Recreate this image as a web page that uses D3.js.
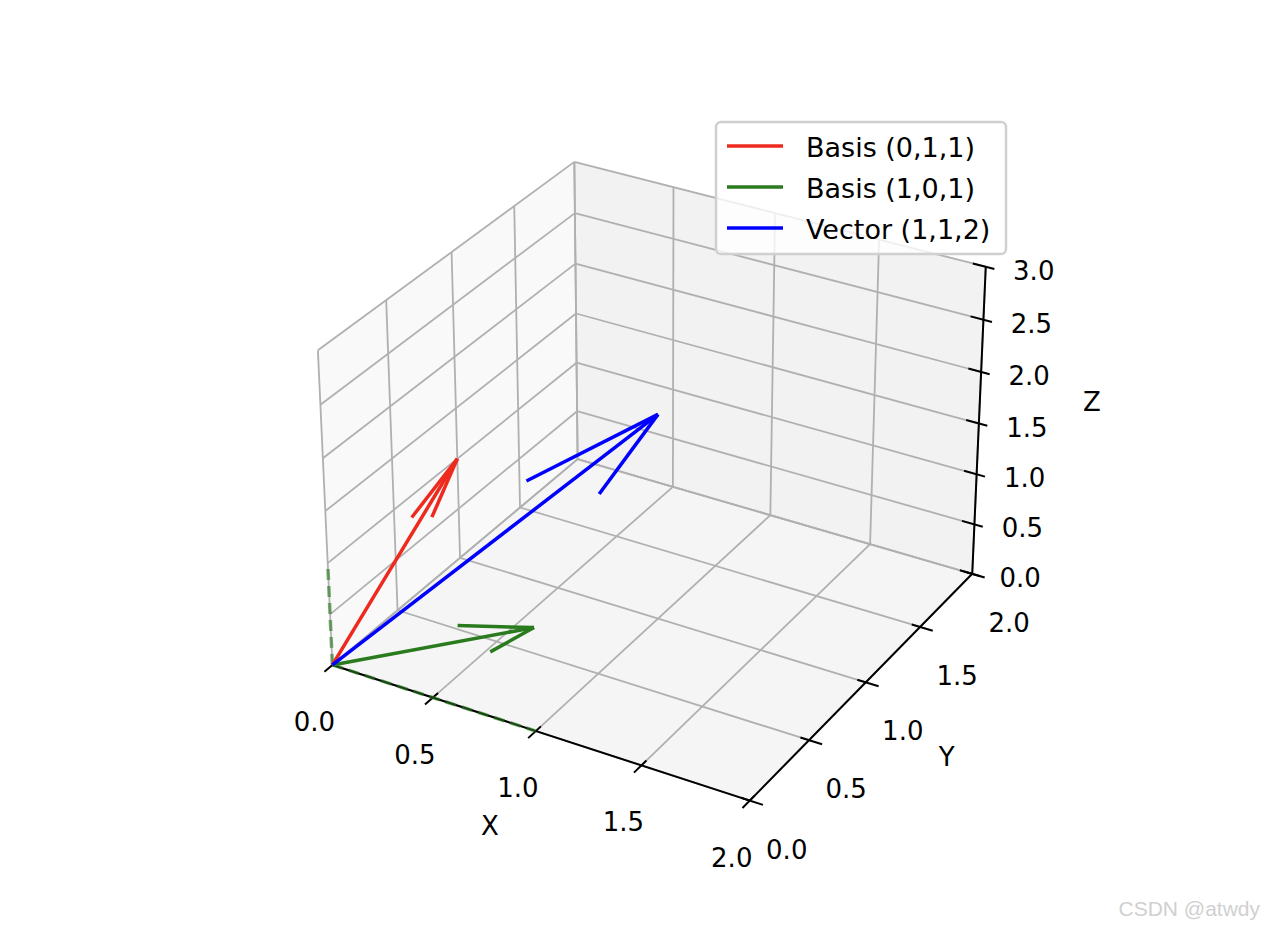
<!DOCTYPE html>
<html><head><meta charset="utf-8">
<script src="https://cdn.jsdelivr.net/npm/d3@7"></script>
<style>body{margin:0;background:#fff}</style>
</head><body>
<svg id="chart" width="1264" height="930"></svg>
<script>
// axis limits and ticks
const xTicks = [0, 0.5, 1, 1.5, 2];
const yTicks = [0, 0.5, 1, 1.5, 2];
const zTicks = [0, 0.5, 1, 1.5, 2, 2.5, 3];
const vectorNames = ["Basis (0,1,1)", "Basis (1,0,1)", "Vector (1,1,2)"];
const vectorValues = [[0, 1, 1], [1, 0, 1], [1, 1, 2]];
const vectorColors = ["#ee2a1e", "#2a7a1e", "#0000ff"];
// dashed projection guides for the green basis
const guideLines = [[[0, 0, 0], [0, 0, 1]], [[0, 0, 0], [1, 0, 0]]];

const svg = d3.select("#chart");

// matplotlib style perspective projection, elev 30, azim -60
const aspect = [4, 4, 3].map(v => v * 1.8294640721620434 / Math.sqrt(41));
const sx = d3.scaleLinear().domain([0, 2]).range([0, aspect[0]]);
const sy = d3.scaleLinear().domain([0, 2]).range([0, aspect[1]]);
const sz = d3.scaleLinear().domain([0, 3]).range([0, aspect[2]]);
const elev = 30 * Math.PI / 180, azim = -60 * Math.PI / 180, dist = 10;
const wv = [Math.cos(elev) * Math.cos(azim), Math.cos(elev) * Math.sin(azim), Math.sin(elev)];
const R = aspect.map(v => v / 2);
const eye = R.map((r, i) => r + dist * wv[i]);
const cross = (a, b) => [a[1]*b[2]-a[2]*b[1], a[2]*b[0]-a[0]*b[2], a[0]*b[1]-a[1]*b[0]];
const dot = (a, b) => a[0]*b[0] + a[1]*b[1] + a[2]*b[2];
const norm = a => { const n = Math.sqrt(dot(a, a)); return a.map(v => v / n); };
const uv = norm(cross([0, 0, 1], wv));
const vv = cross(wv, uv);
const screenX = d3.scaleLinear().domain([0, 1]).range([658, 658 + 4185]);
const screenY = d3.scaleLinear().domain([0, 1]).range([466.5, 466.5 - 4185]);

function proj(p) {
  const q = [sx(p[0]), sy(p[1]), sz(p[2])];
  const d = q.map((v, i) => v - eye[i]);
  const w = -dot(wv, d);
  return [screenX(dot(uv, d) / w), screenY(dot(vv, d) / w)];
}
const line3 = pts => d3.line()(pts.map(proj));

// panes
const panes = [
  {pts: [[0,0,0],[0,2,0],[0,2,3],[0,0,3]], fill: "#f9f9f9"},
  {pts: [[0,2,0],[2,2,0],[2,2,3],[0,2,3]], fill: "#f2f2f2"},
  {pts: [[0,0,0],[2,0,0],[2,2,0],[0,2,0]], fill: "#f5f5f5"}
];
svg.append("g").selectAll("path").data(panes).join("path")
  .attr("d", d => line3(d.pts) + "Z").attr("fill", d => d.fill).attr("stroke", "none");

// grid lines
const grid = [];
xTicks.forEach(t => { grid.push([[t,0,0],[t,2,0]]); grid.push([[t,2,0],[t,2,3]]); });
yTicks.forEach(t => { grid.push([[0,t,0],[2,t,0]]); grid.push([[0,t,0],[0,t,3]]); });
zTicks.forEach(t => { grid.push([[0,0,t],[0,2,t]]); grid.push([[0,2,t],[2,2,t]]); });
svg.append("g").selectAll("path").data(grid).join("path")
  .attr("d", line3).attr("stroke", "#b0b0b0").attr("stroke-width", 1.8).attr("fill", "none");

// axis lines
const axes = svg.append("g").attr("stroke", "#000").attr("stroke-width", 2).attr("fill", "none");
axes.append("path").attr("d", line3([[0,0,0],[2,0,0]]));
axes.append("path").attr("d", line3([[2,0,0],[2,2,0]]));
axes.append("path").attr("d", line3([[2,2,0],[2,2,3]]));

const font = "DejaVu Sans, sans-serif";
const labels = svg.append("g").attr("font-family", font).attr("font-size", 26).attr("fill", "#000")
  .attr("text-anchor", "middle").attr("dominant-baseline", "central");

xTicks.forEach(t => {
  axes.append("path").attr("d", line3([[t,0.04,0],[t,-0.06,0]]));
  const p = proj([t,0,0]);
  labels.append("text").attr("x", p[0] - 18).attr("y", p[1] + 57).text(t.toFixed(1));
});
yTicks.forEach(t => {
  axes.append("path").attr("d", line3([[1.96,t,0],[2.06,t,0]]));
  const p = proj([2,t,0]);
  labels.append("text").attr("x", p[0] + 37).attr("y", p[1] + 49).text(t.toFixed(1));
});
zTicks.forEach(t => {
  axes.append("path").attr("d", line3([[1.94,2,t],[2.04,2,t]]));
  const p = proj([2,2,t]);
  labels.append("text").attr("x", p[0] + 48).attr("y", p[1] + 4).text(t.toFixed(1));
});
labels.append("text").attr("x", proj([1,0,0])[0] - 46).attr("y", proj([1,0,0])[1] + 95).text("X");
labels.append("text").attr("x", proj([2,1,0])[0] + 81).attr("y", proj([2,1,0])[1] + 75).text("Y");
labels.append("text").attr("x", proj([2,2,1.5])[0] + 113).attr("y", proj([2,2,1.5])[1] - 22).text("Z");

// dashed guides
svg.append("g").selectAll("path").data(guideLines).join("path")
  .attr("d", line3).attr("stroke", "#2a7a1e").attr("stroke-opacity", 0.6)
  .attr("stroke-width", 3.5).attr("stroke-dasharray", "11,6").attr("fill", "none");

// quiver arrows
function rotate(v, k, a) {
  const c = Math.cos(a), s = Math.sin(a), kv = cross(k, v), kd = dot(k, v);
  return v.map((x, i) => x * c + kv[i] * s + k[i] * kd * (1 - c));
}
const arrows = svg.append("g").attr("fill", "none").attr("stroke-width", 3.5);
vectorValues.forEach((v, i) => {
  const g = arrows.append("g").attr("stroke", vectorColors[i]);
  g.append("path").attr("d", line3([[0,0,0], v]));
  let k = [v[1], -v[0], 0];
  k = (k[0] === 0 && k[1] === 0) ? [1, 0, 0] : norm(k);
  [15, -15].forEach(a => {
    const h = rotate(v, k, a * Math.PI / 180);
    g.append("path").attr("d", line3([v, v.map((x, j) => x - 0.3 * h[j])]));
  });
});

// legend
const lg = svg.append("g").attr("transform", "translate(716,122)");
lg.append("rect").attr("width", 290).attr("height", 132).attr("rx", 5)
  .attr("fill", "#fff").attr("fill-opacity", 0.8).attr("stroke", "#d0d0d0").attr("stroke-width", 2.5);
vectorNames.forEach((n, i) => {
  const y = 24 + i * 41;
  lg.append("line").attr("x1", 11).attr("x2", 67).attr("y1", y).attr("y2", y)
    .attr("stroke", vectorColors[i]).attr("stroke-width", 3.5);
  lg.append("text").attr("x", 90).attr("y", y + 1).attr("dominant-baseline", "central")
    .attr("font-family", font).attr("font-size", 27).text(n);
});

svg.append("text").attr("x", 1260).attr("y", 916).attr("text-anchor", "end")
  .attr("font-family", "Arial, Liberation Sans, sans-serif").attr("font-size", 21)
  .attr("fill", "#d0d0d0").text("CSDN @atwdy");
</script>
</body></html>
